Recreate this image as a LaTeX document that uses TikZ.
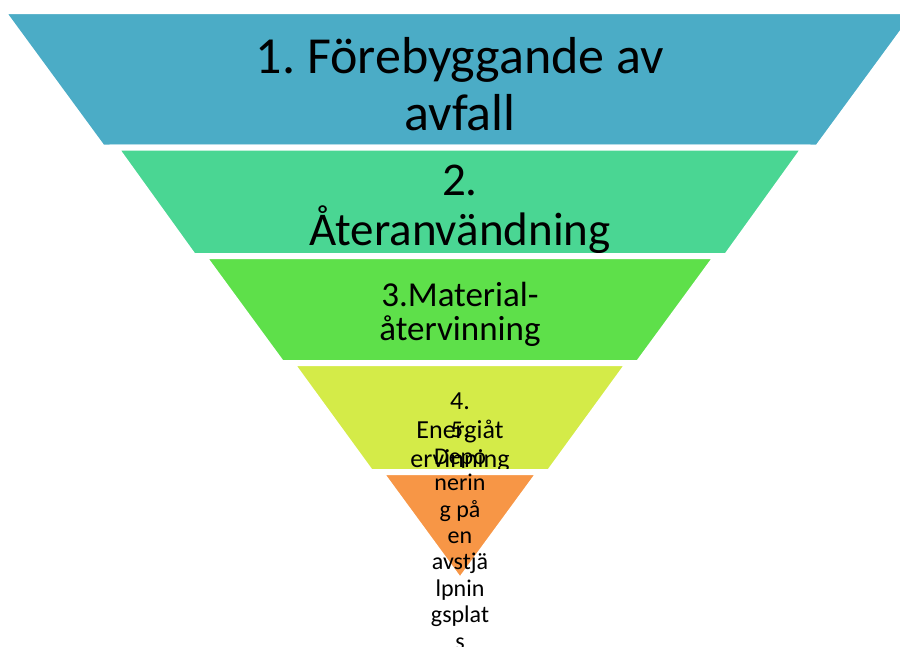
\documentclass[tikz,border=0pt]{standalone}
\usepackage{fontspec}
\setmainfont{Carlito}
\frenchspacing
\definecolor{levelA}{HTML}{4BACC6}
\definecolor{levelB}{HTML}{4AD693}
\definecolor{levelC}{HTML}{5EE04A}
\definecolor{levelD}{HTML}{D4EB48}
\definecolor{levelE}{HTML}{F79646}
\tikzset{x=1pt, y=-1pt,
  band shape/.style={draw=white, line width=6pt},
  band label/.style={anchor=base, align=center, inner sep=0pt, text=black}
}
% #1 colour, #2 top y, #3 bottom y, #4 top left x, #5 bottom left x
\def\Band#1#2#3#4#5{%
  \filldraw[band shape, fill=#1] (#4,#2) -- (920-#4,#2) -- (920-#5,#3) -- (#5,#3) -- cycle;
}
\begin{document}
\begin{tikzpicture}
\fill[white] (0,0) rectangle (900,646);
\useasboundingbox (0,0) rectangle (900,646);
\clip (0,0) rectangle (900,646);
% label anchors sit on the baseline of the last line
\Band{levelA}{11}{147.5}{2.1}{102.2}
\node[band label, font=\fontsize{52}{57}\selectfont] (prevent) at (460,130) {1. Förebyggande av\\avfall};
\Band{levelB}{147.5}{256}{115.2}{193.3}
\node[band label, font=\fontsize{47}{50}\selectfont] (reuse) at (460,245) {2.\\Återanvändning};
\Band{levelC}{256}{363}{203.1}{281.5}
\node[band label, font=\fontsize{35}{34}\selectfont] (recycle) at (460,340) {3.Material-\\återvinning};
\Band{levelD}{363}{472}{291.1}{370.5}
\node[band label, font=\fontsize{26}{29}\selectfont] (energy) at (460,467) {4.\\Energiåt\\ervinning};
\filldraw[band shape, fill=levelE] (380.1,472) -- (539.9,472) -- (460,581) -- cycle;
\node[band label, font=\fontsize{24}{26.4}\selectfont] (landfill) at (460,649) {5.\\Depo\\nerin\\g på\\en\\avstjä\\lpnin\\gsplat\\s};
\end{tikzpicture}
\end{document}
